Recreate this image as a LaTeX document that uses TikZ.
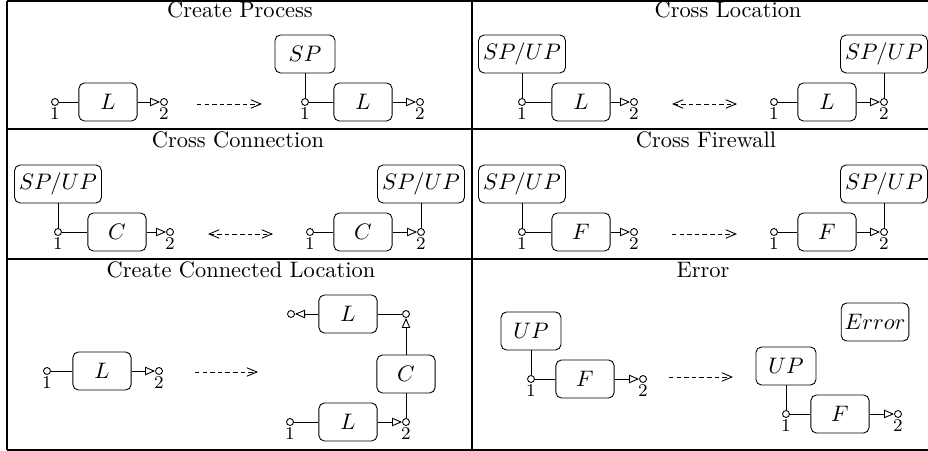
\documentclass[tikz,border=0pt]{standalone}
\usetikzlibrary{arrows.meta}
\begin{document}
\begin{tikzpicture}[x=0.4464pt,y=-0.4464pt,
  box/.style={draw,line width=0.4pt,rounded corners=2.5pt,minimum width=26pt,minimum height=17pt,inner sep=1.5pt},
  spbox/.style={box,minimum width=26.8pt},
  wbox/.style={box,minimum width=38.8pt,inner sep=0.5pt},
  port/.style={circle,draw,line width=0.4pt,fill=white,minimum size=3.1pt,inner sep=0pt},
  plbl/.style={anchor=north,inner sep=0.6pt,font=\footnotesize},
  ttl/.style={anchor=base},
  conn/.style={line width=0.4pt},
  flow/.style={line width=0.4pt,-{Triangle[open,length=4.5pt,width=3.8pt]}},
  dasharrow/.style={line width=0.4pt,dash pattern=on 2pt off 1.4pt,-{Straight Barb[length=4.5pt,width=3.8pt]}},
  dashboth/.style={line width=0.4pt,dash pattern=on 2pt off 1.4pt,{Straight Barb[length=4.5pt,width=3.8pt]}-{Straight Barb[length=4.5pt,width=3.8pt]}},
  grid/.style={line width=0.6pt}]
\newcommand{\spup}{$SP/UP$}
\useasboundingbox (0,0) rectangle (928,451);
% table
\draw[grid] (7,1) -- (928,1);
\draw[grid] (7,1) -- (7,450);
\draw[grid] (7,450) -- (928,450);
\draw[grid] (472,1) -- (472,450);
\draw[grid] (7,129) -- (928,129);
\draw[grid] (7,259) -- (928,259);
% ---------- Create Process
\node[ttl] (t1) at (240,18) {Create Process};
\node[port] (a1) at (55,102) {};
\node[box] (aL) at (108,102) {$L$};
\node[port] (a2) at (164,102) {};
\node[plbl] (a1l) at (a1.south) {1};
\node[plbl] (a2l) at (a2.south) {2};
\draw[conn] (a1) -- (aL);
\draw[flow] (aL) -- (a2);
\coordinate (d1s) at (197,104);
\coordinate (d1e) at (262,104);
\draw[dasharrow] (d1s) -- (d1e);
\node[spbox] (bS) at (305,54) {$SP$};
\node[port] (b1) at (305,102) {};
\node[box] (bL) at (363,102) {$L$};
\node[port] (b2) at (420,102) {};
\node[plbl] (b1l) at (b1.south) {1};
\node[plbl] (b2l) at (b2.south) {2};
\draw[conn] (bS) -- (b1);
\draw[conn] (b1) -- (bL);
\draw[flow] (bL) -- (b2);
% ---------- Cross Location
\node[ttl] (t2) at (728,18) {Cross Location};
\node[wbox] (cS) at (522,54) {\spup};
\node[port] (c1) at (522,102) {};
\node[box] (cL) at (581,102) {$L$};
\node[port] (c2) at (634,102) {};
\node[plbl] (c1l) at (c1.south) {1};
\node[plbl] (c2l) at (c2.south) {2};
\draw[conn] (cS) -- (c1);
\draw[conn] (c1) -- (cL);
\draw[flow] (cL) -- (c2);
\coordinate (d2s) at (672,104);
\coordinate (d2e) at (737,104);
\draw[dashboth] (d2s) -- (d2e);
\node[port] (d1) at (774,102) {};
\node[box] (dL) at (827,102) {$L$};
\node[port] (d2) at (884,102) {};
\node[wbox] (dS) at (884,54) {\spup};
\node[plbl] (d1l) at (d1.south) {1};
\node[plbl] (d2l) at (d2.south) {2};
\draw[conn] (d1) -- (dL);
\draw[flow] (dL) -- (d2);
\draw[conn] (dS) -- (d2);
% ---------- Cross Connection
\node[ttl] (t3) at (238,148) {Cross Connection};
\node[wbox] (eS) at (58,184) {\spup};
\node[port] (e1) at (58,232) {};
\node[box] (eC) at (117,232) {$C$};
\node[port] (e2) at (170,232) {};
\node[plbl] (e1l) at (e1.south) {1};
\node[plbl] (e2l) at (e2.south) {2};
\draw[conn] (eS) -- (e1);
\draw[conn] (e1) -- (eC);
\draw[flow] (eC) -- (e2);
\coordinate (d3s) at (208,234);
\coordinate (d3e) at (273,234);
\draw[dashboth] (d3s) -- (d3e);
\node[port] (f1) at (310,232) {};
\node[box] (fC) at (363,232) {$C$};
\node[port] (f2) at (421,232) {};
\node[wbox] (fS) at (421,184) {\spup};
\node[plbl] (f1l) at (f1.south) {1};
\node[plbl] (f2l) at (f2.south) {2};
\draw[conn] (f1) -- (fC);
\draw[flow] (fC) -- (f2);
\draw[conn] (fS) -- (f2);
% ---------- Cross Firewall
\node[ttl] (t4) at (706,148) {Cross Firewall};
\node[wbox] (gS) at (522,184) {\spup};
\node[port] (g1) at (522,232) {};
\node[box] (gF) at (581,232) {$F$};
\node[port] (g2) at (634,232) {};
\node[plbl] (g1l) at (g1.south) {1};
\node[plbl] (g2l) at (g2.south) {2};
\draw[conn] (gS) -- (g1);
\draw[conn] (g1) -- (gF);
\draw[flow] (gF) -- (g2);
\coordinate (d4s) at (672,234);
\coordinate (d4e) at (737,234);
\draw[dasharrow] (d4s) -- (d4e);
\node[port] (h1) at (774,232) {};
\node[box] (hF) at (827,232) {$F$};
\node[port] (h2) at (884,232) {};
\node[wbox] (hS) at (884,184) {\spup};
\node[plbl] (h1l) at (h1.south) {1};
\node[plbl] (h2l) at (h2.south) {2};
\draw[conn] (h1) -- (hF);
\draw[flow] (hF) -- (h2);
\draw[conn] (hS) -- (h2);
% ---------- Create Connected Location
\node[ttl] (t5) at (241,278) {Create Connected Location};
\node[port] (i1) at (47,371) {};
\node[box] (iL) at (102,371) {$L$};
\node[port] (i2) at (159,371) {};
\node[plbl] (i1l) at (i1.south) {1};
\node[plbl] (i2l) at (i2.south) {2};
\draw[conn] (i1) -- (iL);
\draw[flow] (iL) -- (i2);
\coordinate (d5s) at (195,372);
\coordinate (d5e) at (258,372);
\draw[dasharrow] (d5s) -- (d5e);
\node[box] (jL) at (348,314) {$L$};
\node[port] (j0) at (291,314) {};
\node[port] (jt) at (406,314) {};
\draw[flow] (jL) -- (j0);
\draw[conn] (jL) -- (jt);
\node[box] (kC) at (406,374) {$C$};
\draw[flow] (kC) -- (jt);
\node[box] (kL) at (348,422) {$L$};
\node[port] (k1) at (290,422) {};
\node[port] (k2) at (406,422) {};
\node[plbl] (k1l) at (k1.south) {1};
\node[plbl] (k2l) at (k2.south) {2};
\draw[conn] (k1) -- (kL);
\draw[flow] (kL) -- (k2);
\draw[conn] (kC) -- (k2);
% ---------- Error
\node[ttl] (t6) at (703,278) {Error};
\node[spbox] (lU) at (531,331) {$UP$};
\node[port] (l1) at (531,379) {};
\node[box] (lF) at (585,379) {$F$};
\node[port] (l2) at (643,379) {};
\node[plbl] (l1l) at (l1.south) {1};
\node[plbl] (l2l) at (l2.south) {2};
\draw[conn] (lU) -- (l1);
\draw[conn] (l1) -- (lF);
\draw[flow] (lF) -- (l2);
\coordinate (d6s) at (669,377);
\coordinate (d6e) at (733,377);
\draw[dasharrow] (d6s) -- (d6e);
\node[spbox] (mU) at (786,366) {$UP$};
\node[port] (m1) at (786,414) {};
\node[box] (mF) at (840,414) {$F$};
\node[port] (m2) at (898,414) {};
\node[plbl] (m1l) at (m1.south) {1};
\node[plbl] (m2l) at (m2.south) {2};
\draw[conn] (mU) -- (m1);
\draw[conn] (m1) -- (mF);
\draw[flow] (mF) -- (m2);
\node[box] (err) at (875,322) {$Error$};
\end{tikzpicture}
\end{document}
